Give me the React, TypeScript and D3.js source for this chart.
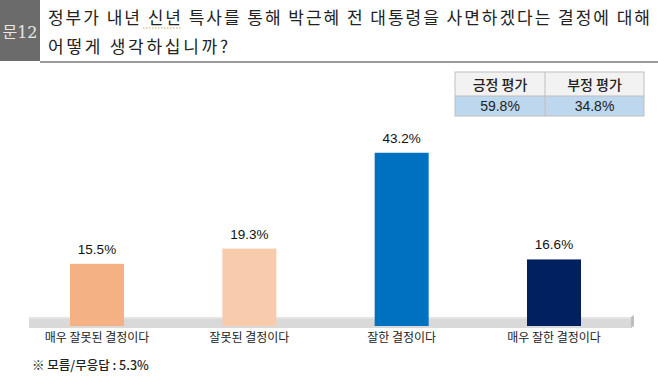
import React from "react";
import * as d3 from "d3";

const categories = ["매우 잘못된 결정이다", "잘못된 결정이다", "잘한 결정이다", "매우 잘한 결정이다"];
const values = [15.5, 19.3, 43.2, 16.6];
const barColors = ["#F4B183", "#F8CBAD", "#0070C0", "#002060"];
const summaryHeaders = ["긍정 평가", "부정 평가"];
const summaryValues = ["59.8%", "34.8%"];
const titleLines = [
  "정부가 내년 신년 특사를 통해 박근혜 전 대통령을 사면하겠다는 결정에 대해",
  "어떻게 생각하십니까?",
];
const footnote = "※ 모름/무응답 : 5.3%";

export default function App() {
  const W = 658, H = 379;
  const x = d3.scalePoint<string>().domain(categories).range([97, 554]);
  const y = d3.scaleLinear().domain([0, 50]).range([326, 125.5]);
  const bw = 54;
  const kr = "'Noto Sans CJK KR', 'Noto Sans', sans-serif";
  const ar = "'Liberation Sans', Arial, sans-serif";
  return (
    <svg width={W} height={H} style={{ position: "absolute", left: 0, top: 0, background: "#fff" }}>
      {/* header */}
      <rect x={0} y={0} width={40} height={61} fill="#6b6b6b" />
      <text x={20} y={38} textAnchor="middle" fontFamily={"'DejaVu Serif', serif"} fontSize={16} fill="#e8e8e8">
        <tspan fontFamily={kr}>문</tspan>12
      </text>
      <rect x={40} y={61} width={W - 40} height={2} fill="#9a9a9a" />
      <text x={48} y={24} fontFamily={kr} fontSize={17} fill="#222" textLength={602} lengthAdjust="spacing">
        {titleLines[0]}
      </text>
      <line x1={143} x2={182} y1={28} y2={28} stroke="#c8a860" strokeWidth={1} strokeDasharray="1.5 1.5" />
      <text x={48} y={53} fontFamily={kr} fontSize={17} fill="#222" textLength={180} lengthAdjust="spacing">
        {titleLines[1]}
      </text>

      {/* summary table */}
      <rect x={455} y={72} width={189} height={24} fill="#f2f2f2" />
      <rect x={455} y={96} width={189} height={20} fill="#bdd7ee" />
      <rect x={455} y={72} width={189} height={44} fill="none" stroke="#bfbfbf" />
      <line x1={455} x2={644} y1={96} y2={96} stroke="#bfbfbf" />
      <line x1={545} x2={545} y1={72} y2={116} stroke="#bfbfbf" />
      {summaryHeaders.map((h, i) => (
        <text key={h} x={i === 0 ? 500 : 594.5} y={89.5} textAnchor="middle" fontFamily={kr} fontSize={14} fontWeight={500} fill="#222">
          {h}
        </text>
      ))}
      {summaryValues.map((v, i) => (
        <text key={v} x={i === 0 ? 500 : 594.5} y={111} textAnchor="middle" fontFamily={ar} fontSize={14} fill="#222">
          {v}
        </text>
      ))}

      {/* floor */}
      <rect x={29} y={317} width={602} height={11} fill="#d9d9d9" />
      <rect x={29} y={317} width={602} height={2} fill="#e4e4e4" />
      <path d="M631,317 L634,315 L634,326 L631,328 Z" fill="#bdbdbd" />

      {/* bars */}
      {categories.map((c, i) => {
        const cx = x(c)!;
        return (
          <g key={c}>
            <rect x={cx - bw / 2} y={y(values[i])} width={bw} height={y(0) - y(values[i])} fill={barColors[i]} />
            <text x={cx} y={y(values[i]) - 10} textAnchor="middle" fontFamily={ar} fontSize={13.5} fill="#111">
              {values[i].toFixed(1)}%
            </text>
            <text x={cx} y={342} textAnchor="middle" fontFamily={kr} fontSize={12} fill="#222">
              {c}
            </text>
          </g>
        );
      })}

      <text x={32} y={370} fontFamily={kr} fontSize={12.5} fontWeight={500} fill="#222">
        {footnote}
      </text>
    </svg>
  );
}
